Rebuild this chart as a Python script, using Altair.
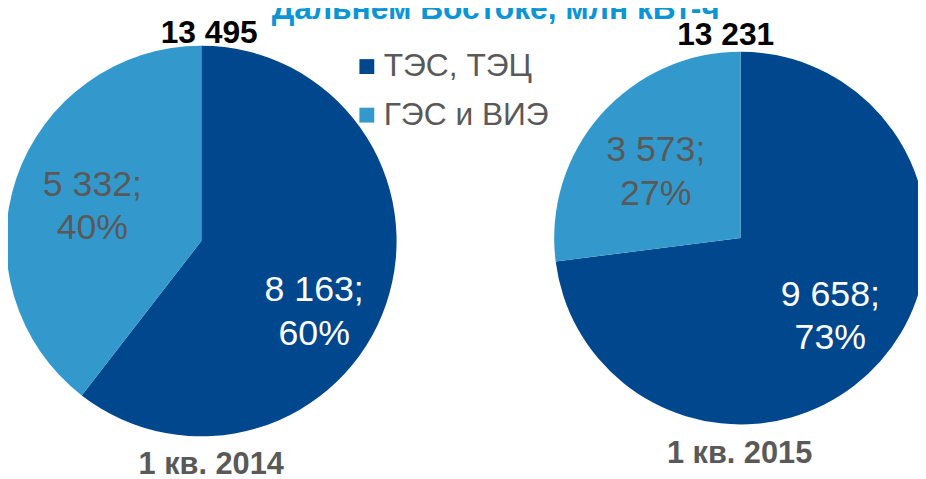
import altair as alt
import pandas as pd

# ---- data ----
periods = ["1 кв. 2014", "1 кв. 2015"]
categories = ["ТЭС, ТЭЦ", "ГЭС и ВИЭ"]
tes_values = [8163, 9658]
ges_values = [5332, 3573]
title_text = "Дальнем Востоке, млн кВт-ч"

DARK = "#00478E"
LIGHT = "#3399CC"
GRAY = "#595959"
FONT = "Liberation Sans"


def fmt(v):
    return f"{v:,}".replace(",", " ")


rows = []
for p, t, g in zip(periods, tes_values, ges_values):
    total = t + g
    for idx, (cat, v) in enumerate(zip(categories, [t, g])):
        rows.append({
            "period": p,
            "category": cat,
            "idx": idx,
            "value": v,
            "label": f"{fmt(v)};\n{round(100 * v / total)}%",
            "total_label": fmt(total),
        })
df = pd.DataFrame(rows)

# layout (pixels, chart coordinates)
LH = 44
pies = [
    {"period": periods[0], "cx": 195, "cy": 233, "r": 197,
     "offs": [(6, 35 - LH / 2), (-2, 2 - LH / 2)], "top": (203, 33), "bottom": (205, 468)},
    {"period": periods[1], "cx": 739, "cy": 230, "r": 188,
     "offs": [(5, 4 - LH / 2), (0, 9 - LH / 2)], "top": (724, 35), "bottom": (738, 457)},
]

theta_scale = alt.Scale(domain=[0, 1])
color_scale = alt.Scale(domain=categories, range=[DARK, LIGHT])

layers = []
for pie in pies:
    base = alt.Chart(df).transform_filter(alt.datum.period == pie["period"])
    arc = base.mark_arc(radius=pie["r"], stroke=None).encode(
        x=alt.value(pie["cx"]),
        y=alt.value(pie["cy"]),
        theta=alt.Theta("value:Q", stack="normalize", scale=theta_scale),
        color=alt.Color(
            "category:N",
            scale=color_scale,
            sort=categories,
            legend=alt.Legend(
                title=None,
                orient="none",
                legendX=346,
                legendY=41,
                symbolType="square",
                symbolSize=225,
                symbolStrokeWidth=0,
                labelFont=FONT,
                labelFontSize=32,
                labelColor=GRAY,
                labelOffset=1,
                labelLimit=0,
                rowPadding=17,
                padding=0,
            ),
        ),
        order=alt.Order("idx:Q"),
    )
    layers.append(arc)

    mids = (
        base.transform_joinaggregate(total="sum(value)", groupby=["period"])
        .transform_window(cum="sum(value)", sort=[{"field": "idx"}], groupby=["period"])
        .transform_calculate(mid="(datum.cum - datum.value / 2) / datum.total")
    )
    for idx, cat in enumerate(categories):
        dx, dy = pie["offs"][idx]
        txt = mids.transform_filter(alt.datum.category == cat).mark_text(
            font=FONT,
            fontSize=36,
            lineHeight=LH,
            lineBreak="\n",
            align="center",
            baseline="middle",
            color="white" if idx == 0 else GRAY,
            dx=dx,
            dy=dy,
        ).encode(
            x=alt.value(pie["cx"]),
            y=alt.value(pie["cy"]),
            theta=alt.Theta("mid:Q", stack=None, scale=theta_scale),
            radius=alt.value(114),
            text="label:N",
        )
        layers.append(txt)

    top = base.transform_filter(alt.datum.idx == 0).mark_text(
        font=FONT, fontSize=32, fontWeight="bold", color="black",
        align="center", baseline="alphabetic",
    ).encode(x=alt.value(pie["top"][0]), y=alt.value(pie["top"][1]), text="total_label:N")
    layers.append(top)

    bottom = base.transform_filter(alt.datum.idx == 0).mark_text(
        font=FONT, fontSize=31, fontWeight="bold", color=GRAY,
        align="center", baseline="alphabetic",
    ).encode(x=alt.value(pie["bottom"][0]), y=alt.value(pie["bottom"][1]), text="period:N")
    layers.append(bottom)

title = alt.Chart(pd.DataFrame({"t": [title_text]})).mark_text(
    font=FONT, fontSize=32, fontWeight="bold", color="#0A96D6",
    align="center", baseline="alphabetic",
).encode(x=alt.value(492), y=alt.value(9), text="t:N")
layers.append(title)

chart = alt.layer(*layers).properties(
    width=918,
    height=471,
    autosize=alt.AutoSizeParams(type="none"),
    padding=0,
    background="white",
).configure_view(stroke=None)

chart.save("out.html", embed_options={"renderer": "svg", "actions": False})
